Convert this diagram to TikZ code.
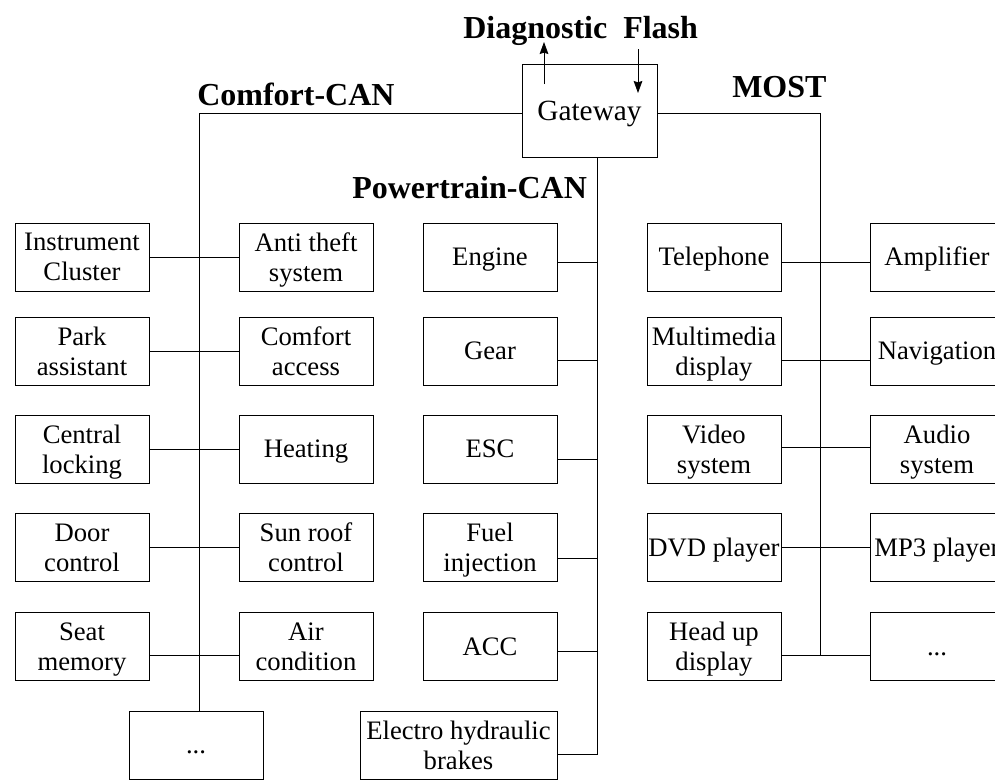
\documentclass[tikz,border=0pt]{standalone}
\usepackage{fontspec}
\setmainfont{Liberation Serif}
\usetikzlibrary{arrows.meta}

\tikzset{
  ecu/.style={draw, line width=0.6pt, minimum width=100.5pt, minimum height=51pt,
    inner sep=0pt, text depth=0pt, align=center, font=\fontsize{20}{22.5}\selectfont},
  single/.style={ecu, text height=13pt},
  bus/.style={line width=0.6pt},
  flow/.style={line width=0.6pt, -{Stealth[length=9pt, width=6.5pt, inset=1pt]}},
  busname/.style={anchor=base west, inner sep=0pt, font=\fontsize{24}{28}\selectfont\bfseries},
}

\begin{document}
\begin{tikzpicture}[x=0.75pt, y=-0.75pt]
        \clip (0,0) rectangle (995,779);

        % Gateway
        \node[single, minimum width=101.25pt, minimum height=69.75pt, text height=14.5pt,
              font=\fontsize{22}{26}\selectfont] (gw) at (589.5,110.5) {Gateway};

        % Labels
        \node[busname] (diag) at (463,38) {Diagnostic};
        \node[busname] (flash) at (623,38) {Flash};
        \node[busname] (comfort) at (197,105) {Comfort-CAN};
        \node[busname] (powertrain) at (352,198) {Powertrain-CAN};
        \node[busname] (most) at (732,97) {MOST};

        % Comfort-CAN
        \node[ecu] (instr) at (82,257) {Instrument\\Cluster};
        \node[ecu] (theft) at (306,257) {Anti theft\\system};
        \node[ecu] (park) at (82,351) {Park\\assistant};
        \node[ecu] (access) at (306,351) {Comfort\\access};
        \node[ecu] (locking) at (82,449) {Central\\locking};
        \node[single] (heating) at (306,449) {Heating};
        \node[ecu] (door) at (82,547.5) {Door\\control};
        \node[ecu] (sunroof) at (306,547.5) {Sun roof\\control};
        \node[ecu] (seat) at (82,646.5) {Seat\\memory};
        \node[ecu] (aircon) at (306,646.5) {Air\\condition};
        \node[single] (cdots) at (196,745) {...};

        % Powertrain-CAN
        \node[single] (engine) at (490,257) {Engine};
        \node[single] (gear) at (490,351) {Gear};
        \node[single] (esc) at (490,449) {ESC};
        \node[ecu] (fuel) at (490,547.5) {Fuel\\injection};
        \node[single] (acc) at (490,646.5) {ACC};
        \node[ecu, minimum width=147.75pt] (brakes) at (458.5,745) {Electro hydraulic\\brakes};

        % MOST
        \node[single] (phone) at (714,257) {Telephone};
        \node[single] (amp) at (937,257) {Amplifier};
        \node[ecu] (media) at (714,351) {Multimedia\\display};
        \node[single] (navi) at (937,351) {Navigation};
        \node[ecu] (video) at (714,449) {Video\\system};
        \node[ecu] (audio) at (937,449) {Audio\\system};
        \node[single] (dvd) at (714,547.5) {DVD player};
        \node[single] (mp3) at (937,547.5) {MP3 player};
        \node[ecu] (hud) at (714,646.5) {Head up\\display};
        \node[single] (mdots) at (937,646.5) {...};

        % Bus corners
        \coordinate (cc) at (199,113);
        \coordinate (ptbus) at (597,754);
        \coordinate (mbus) at (820,656);

        % Arrows
        \coordinate (diagin) at (544,84);
        \coordinate (diagout) at (544,42);
        \coordinate (flashin) at (638,49);
        \coordinate (flashout) at (638,93);
        \draw[flow] (diagin) -- (diagout);
        \draw[flow] (flashin) -- (flashout);

        % Comfort-CAN bus
        \draw[bus] (gw.west |- cc) -| (cc |- cdots.north);
        \draw[bus] (instr.east) -- (theft.west);
        \draw[bus] (park.east) -- (access.west);
        \draw[bus] (locking.east) -- (heating.west);
        \draw[bus] (door.east) -- (sunroof.west);
        \draw[bus] ([yshift=-7pt]seat.east) -- ([yshift=-7pt]aircon.west);

        % Powertrain-CAN bus
        \draw[bus] (gw.south -| ptbus) -- (ptbus) -- (brakes.east |- ptbus);
        \draw[bus] ([yshift=-3.75pt]engine.east) -- ++(40,0);
        \draw[bus] ([yshift=-6.75pt]gear.east) -- ++(40,0);
        \draw[bus] ([yshift=-7.5pt]esc.east) -- ++(40,0);
        \draw[bus] ([yshift=-7.9pt]fuel.east) -- ++(40,0);
        \draw[bus] ([yshift=-3.4pt]acc.east) -- ++(40,0);

        % MOST bus
        \draw[bus] (gw.east |- cc) -| (mbus);
        \draw[bus] ([yshift=-3.75pt]phone.east) -- ([yshift=-3.75pt]amp.west);
        \draw[bus] ([yshift=-6.75pt]media.east) -- ([yshift=-6.75pt]navi.west);
        \draw[bus] ([yshift=1.5pt]video.east) -- ([yshift=1.5pt]audio.west);
        \draw[bus] (dvd.east) -- (mp3.west);
        \draw[bus] ([yshift=-6.75pt]hud.east) -- ([yshift=-6.75pt]mdots.west);
    \end{tikzpicture}
\end{document}
